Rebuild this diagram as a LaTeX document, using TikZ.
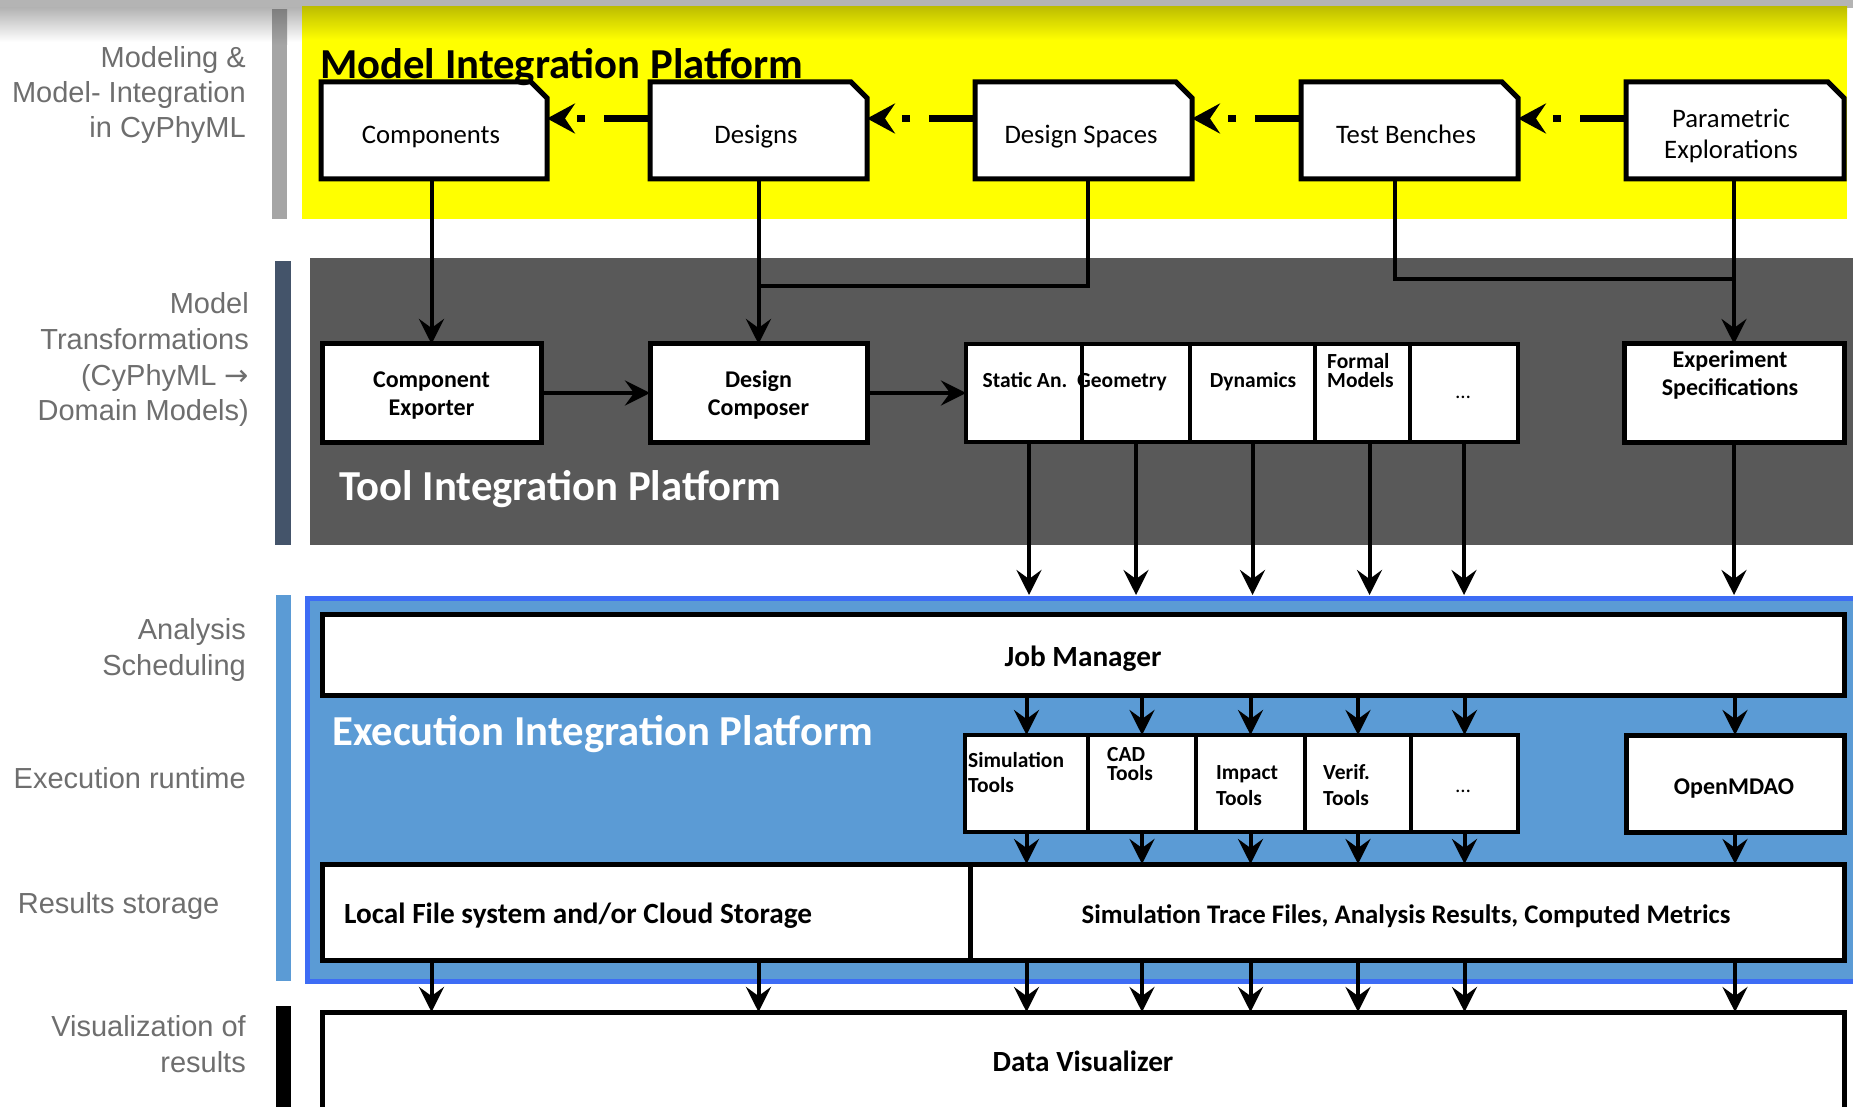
\documentclass[tikz,border=0pt]{standalone}
\usepackage{fontspec}
\setmainfont{Carlito}
\newfontfamily\labfont{Liberation Sans}
\newfontfamily\arrfont{DejaVu Sans}
\usetikzlibrary{arrows.meta,calc}
\pgfdeclarelayer{back}
\pgfdeclarelayer{mid}
\pgfsetlayers{back,mid,main}
\definecolor{yel}{RGB}{255,255,0}
\definecolor{olivey}{RGB}{190,190,0}
\definecolor{darkp}{RGB}{89,89,89}
\definecolor{barblue}{RGB}{68,84,106}
\definecolor{lblue}{RGB}{91,155,213}
\definecolor{bblue}{RGB}{61,108,245}
\definecolor{labgray}{RGB}{110,110,110}
\definecolor{bargray}{RGB}{165,165,165}
\definecolor{topgray}{RGB}{180,180,180}
\newcommand\foldshape[1]{\filldraw[fill=white,draw=black,line width=5pt,line join=miter] (#1.south west) -- (#1.north west) -- ([xshift=-16pt]#1.north east) -- ([yshift=-16pt]#1.north east) -- (#1.south east) -- cycle;}
\begin{document}
\begin{tikzpicture}[x=1pt,y=-1pt,
  fbox/.style={inner sep=0pt, outer sep=0pt, anchor=north west, minimum height=97pt},
  box/.style={draw=black, line width=5pt, fill=white, inner sep=0pt, outer sep=0pt, anchor=north west},
  cell/.style={draw=black, line width=4.5pt, fill=white, inner sep=0pt, outer sep=0pt, anchor=north west},
  panel/.style={inner sep=0pt, outer sep=0pt, anchor=north west},
  conn/.style={line width=4pt, -{Stealth[length=25pt,width=25pt,inset=9pt]}},
  plain/.style={line width=4pt},
  dashconn/.style={line width=6.5pt, dash pattern=on 46pt off 19pt on 8pt off 40pt, -{Stealth[length=28pt,width=30pt,inset=10pt]}},
  t26/.style={font=\fontsize{26.7}{31}\selectfont, inner sep=0pt, anchor=base},
  b24/.style={font=\bfseries\fontsize{24}{27}\selectfont, inner sep=0pt, anchor=base},
  b21/.style={font=\bfseries\fontsize{21.5}{24}\selectfont, inner sep=0pt, anchor=base},
  b28/.style={font=\bfseries\fontsize{29.3}{32}\selectfont, inner sep=0pt, anchor=base},
  b27/.style={font=\bfseries\fontsize{26.8}{32}\selectfont, inner sep=0pt, anchor=base},
  ttl/.style={font=\bfseries\fontsize{42.7}{48}\selectfont, inner sep=0pt, anchor=base west},
  lab/.style={font=\labfont\fontsize{29}{32}\selectfont, text=labgray, inner sep=0pt, anchor=base east},
]
\path[use as bounding box] (0,0) rectangle (1853,1107);
\clip (0,0) rectangle (1853,1107);

% ---------------- backgrounds ----------------
\begin{pgfonlayer}{back}
\fill[topgray] (0,0) rectangle (1853,8);
\shade[top color=topgray, bottom color=white] (0,8) rectangle (302,42);
\node[panel, fill=yel, minimum width=1545pt, minimum height=212pt] (mip) at (302,7) {};
\shade[top color=olivey, bottom color=yel] (302,7) rectangle (1847,40);
\node[panel, fill=darkp, minimum width=1543pt, minimum height=287pt] (tip) at (310,258) {};
\node[panel, fill=lblue, draw=bblue, line width=5pt, minimum width=1552pt, minimum height=383pt] (eip) at (307,598) {};
\node[panel, fill=bargray, minimum width=15pt, minimum height=209pt] (bar1) at (272,10) {};
\shade[top color=gray, bottom color=bargray] (272,10) rectangle (287,45);
\node[panel, fill=barblue, minimum width=16pt, minimum height=284pt] (bar2) at (275,261) {};
\node[panel, fill=lblue, minimum width=15pt, minimum height=386pt] (bar3) at (276,595) {};
\node[panel, fill=black, minimum width=15pt, minimum height=110pt] (bar4) at (276,1006) {};
\end{pgfonlayer}

% ---------------- model integration row ----------------
\node[fbox, minimum width=226pt] (comp) at (321,82) {};
\node[fbox, minimum width=217pt] (des) at (650,82) {};
\node[fbox, minimum width=217pt] (dspace) at (975,82) {};
\node[fbox, minimum width=217pt] (tb) at (1301,82) {};
\node[fbox, minimum width=218pt] (pe) at (1626,82) {};
\begin{pgfonlayer}{mid}
\foldshape{comp}\foldshape{des}\foldshape{dspace}\foldshape{tb}\foldshape{pe}
\end{pgfonlayer}
\node[t26] (compT) at (431,143.5) {Components};
\node[t26] (desT) at (756,143.5) {Designs};
\node[t26] (dspT) at (1081,143.5) {Design Spaces};
\node[t26] (tbT) at (1406,143.5) {Test Benches};
\node[t26] (peT1) at (1731,127.5) {Parametric};
\node[t26] (peT2) at (1731,159) {Explorations};

% ---------------- tool integration row ----------------
\node[box, minimum width=219pt, minimum height=98pt] (cexp) at (322,344) {};
\node[box, minimum width=217pt, minimum height=98pt] (dcomp) at (650,344) {};
\node[cell, minimum width=116pt, minimum height=98pt] (static) at (966,344) {};
\node[cell, minimum width=108pt, minimum height=98pt] (geom) at (1082,344) {};
\node[cell, minimum width=125pt, minimum height=98pt] (dyn) at (1190,344) {};
\node[cell, minimum width=95pt, minimum height=98pt] (formal) at (1315,344) {};
\node[cell, minimum width=108pt, minimum height=98pt] (dotsa) at (1410,344) {};
\node[box, minimum width=220pt, minimum height=98pt] (espec) at (1624,344) {};
\node[b24] (cexpT1) at (431.5,387.5) {Component};
\node[b24] (cexpT2) at (431.5,415) {Exporter};
\node[b24] (dcompT1) at (758.5,387.5) {Design};
\node[b24] (dcompT2) at (758.5,415) {Composer};
\node[b21] (staticT) at (1025,388) {Static An.};
\node[b21] (geomT) at (1122,388) {Geometry};
\node[b21] (dynT) at (1253,388) {Dynamics};
\node[b21, anchor=base west] (formT1) at (1327,368) {Formal};
\node[b21, anchor=base west] (formT2) at (1327,388) {Models};
\node[t26, font=\fontsize{21}{24}\selectfont] (dotsaT) at (1463,398) {…};
\node[b24] (especT1) at (1730,367) {Experiment};
\node[b24] (especT2) at (1730,395) {Specifications};

% ---------------- execution integration ----------------
\node[box, minimum width=1522pt, minimum height=81pt] (jm) at (322,614) {};
\node[b28] (jmT) at (1083,666) {Job Manager};
\node[cell, minimum width=123pt, minimum height=97pt] (simc) at (965,735) {};
\node[cell, minimum width=108pt, minimum height=97pt] (cadc) at (1088,735) {};
\node[cell, minimum width=109pt, minimum height=97pt] (impc) at (1196,735) {};
\node[cell, minimum width=106pt, minimum height=97pt] (verc) at (1305,735) {};
\node[cell, minimum width=107pt, minimum height=97pt] (dotsb) at (1411,735) {};
\node[box, minimum width=218pt, minimum height=97pt] (omdao) at (1626,735) {};
\node[b21, anchor=base west] (simT1) at (968,767) {Simulation};
\node[b21, anchor=base west] (simT2) at (968,792) {Tools};
\node[b21, anchor=base west] (cadT1) at (1107,761) {CAD};
\node[b21, anchor=base west] (cadT2) at (1107,780) {Tools};
\node[b21, anchor=base west] (impT1) at (1216,779) {Impact};
\node[b21, anchor=base west] (impT2) at (1216,805) {Tools};
\node[b21, anchor=base west] (verT1) at (1323,779) {Verif.};
\node[b21, anchor=base west] (verT2) at (1323,805) {Tools};
\node[t26, font=\fontsize{21}{24}\selectfont] (dotsbT) at (1463,792) {…};
\node[b24] (omT) at (1734,794) {OpenMDAO};
\node[box, minimum width=648pt, minimum height=96pt] (local) at (322,864) {};
\node[box, minimum width=874pt, minimum height=96pt] (st) at (970,864) {};
\node[b28, anchor=base west] (localT) at (344,923) {Local File system and/or Cloud Storage};
\node[b27] (stT) at (1406,923) {Simulation Trace Files, Analysis Results, Computed Metrics};

% ---------------- data visualizer ----------------
\node[box, minimum width=1522pt, minimum height=110pt] (dv) at (322,1012) {};
\node[b28] (dvT) at (1083,1071) {Data Visualizer};

% ---------------- titles ----------------
\node[ttl] (mipT) at (320,79) {Model Integration Platform};
\node[ttl, text=white] (tipT) at (339,500) {Tool Integration Platform};
\node[ttl, text=white] (eipT) at (332,745) {Execution Integration Platform};

% ---------------- left labels ----------------
\node[lab] (l1a) at (246,68) {Modeling \&};
\node[lab] (l1b) at (246,103) {Model- Integration};
\node[lab] (l1c) at (246,137.5) {in CyPhyML};
\node[lab] (l2a) at (249,314) {Model};
\node[lab] (l2b) at (249,349) {Transformations};
\node[lab] (l2c) at (249,385.5) {(CyPhyML {\arrfont →}};
\node[lab] (l2d) at (249,420.5) {Domain Models)};
\node[lab] (l3a) at (246,639.5) {Analysis};
\node[lab] (l3b) at (246,675) {Scheduling};
\node[lab] (l4) at (246,788.5) {Execution runtime};
\node[lab] (l5) at (219.5,913) {Results storage};
\node[lab] (l6a) at (246,1036) {Visualization of};
\node[lab] (l6b) at (246,1072) {results};

% ---------------- connectors ----------------
\draw[dashconn] ($(des.west)+(0,-12)$) -- ($(comp.east)+(0,-12)$);
\draw[dashconn] ($(dspace.west)+(0,-12)$) -- ($(des.east)+(0,-12)$);
\draw[dashconn] ($(tb.west)+(0,-12)$) -- ($(dspace.east)+(0,-12)$);
\draw[dashconn] ($(pe.west)+(0,-12)$) -- ($(tb.east)+(0,-12)$);

\draw[conn] (comp.south -| cexp.north) -- (cexp.north);
\draw[conn] (des.south) -- (dcomp.north);
\coordinate (j1) at ($(dcomp.north)+(0,-58)$);
\draw[plain] ($(dspace.south)+(4,0)$) |- (j1);
\coordinate (j2) at ($(espec.north)+(0,-65)$);
\draw[plain] ($(tb.south)+(-15,0)$) |- (j2);
\draw[conn] (pe.south -| espec.north) -- (espec.north);

\draw[conn] (cexp.east) -- (dcomp.west);
\draw[conn] (dcomp.east) -- (static.west);

\draw[conn] ($(static.south)+(5,0)$) -- ($(static.south |- eip.north)+(5,-3)$);
\draw[conn] (geom.south) -- ($(geom.south |- eip.north)+(0,-3)$);
\draw[conn] (dyn.south) -- ($(dyn.south |- eip.north)+(0,-3)$);
\draw[conn] ($(formal.south)+(7,0)$) -- ($(formal.south |- eip.north)+(7,-3)$);
\draw[conn] (dotsa.south) -- ($(dotsa.south |- eip.north)+(0,-3)$);
\draw[conn] (espec.south) -- ($(espec.south |- eip.north)+(0,-3)$);

\foreach \n in {simc,cadc,impc,verc,dotsb,omdao}{
  \draw[conn] (\n.north |- jm.south) -- (\n.north);
  \draw[conn] (\n.south) -- (\n.south |- st.north);
  \draw[conn] (\n.south |- st.south) -- (\n.south |- dv.north);
}
\draw[conn] (cexp.south |- local.south) -- (cexp.south |- dv.north);
\draw[conn] (dcomp.south |- local.south) -- (dcomp.south |- dv.north);
\end{tikzpicture}
\end{document}
